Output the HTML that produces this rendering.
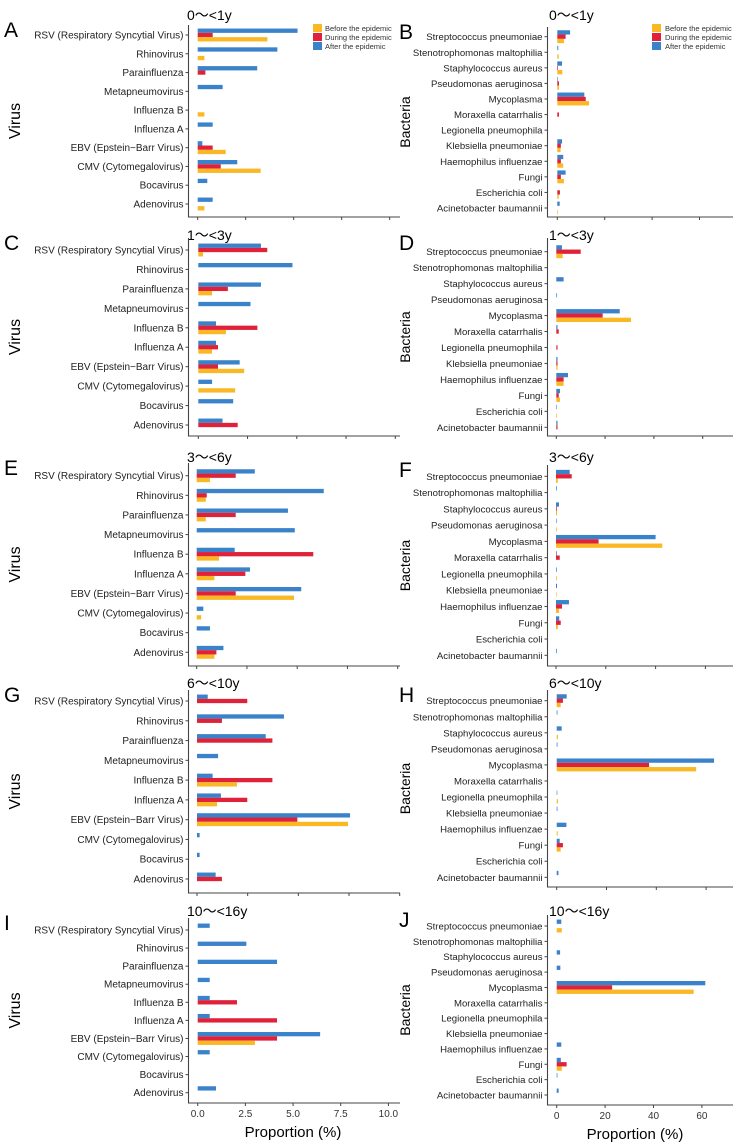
<!DOCTYPE html>
<html><head><meta charset="utf-8"><style>
html,body{margin:0;padding:0;background:#fff;}
svg{display:block;font-family:"Liberation Sans",Arial,sans-serif;}
</style></head><body>
<svg id="chart" width="750" height="1144" viewBox="0 0 750 1144" xmlns="http://www.w3.org/2000/svg"></svg>
<script>
const virusCats = ["RSV (Respiratory Syncytial Virus)","Rhinovirus","Parainfluenza","Metapneumovirus","Influenza B","Influenza A","EBV (Epstein\u2212Barr Virus)","CMV (Cytomegalovirus)","Bocavirus","Adenovirus"];
const bactCats = ["Streptococcus pneumoniae","Stenotrophomonas maltophilia","Staphylococcus aureus","Pseudomonas aeruginosa","Mycoplasma","Moraxella catarrhalis","Legionella pneumophila","Klebsiella pneumoniae","Haemophilus influenzae","Fungi","Escherichia coli","Acinetobacter baumannii"];
const seriesNames = ["Before the epidemic","During the epidemic","After the epidemic"];
const virusTicks = [0,2.5,5,7.5,10];
const virusTickLabels = ["0.0","2.5","5.0","7.5","10.0"];
const bactTicks = [0,20,40,60];
const bactTickLabels = ["0","20","40","60"];
const ageGroups = ["0\uff5e<1y","1\uff5e<3y","3\uff5e<6y","6\uff5e<10y","10\uff5e<16y"];

const aBefore=[3.63,0.35,0,0,0.35,0,1.46,3.28,0,0.35];
const aDuring=[0.78,0,0.4,0,0,0,0.78,1.2,0,0];
const aAfter=[5.2,4.15,3.1,1.3,0,0.78,0.24,2.06,0.5,0.78];
const cBefore=[0.24,0,0.7,0,1.4,0.7,2.33,1.87,0,0];
const cDuring=[3.5,0,1.5,0,3.0,1.0,1.0,0,0,2.0];
const cAfter=[3.18,4.78,3.18,2.65,0.9,0.9,2.1,0.7,1.77,1.23];
const eBefore=[0.66,0.45,0.45,0,1.11,0.88,4.84,0.22,0,0.88];
const eDuring=[1.94,0.5,1.94,0,5.8,2.42,1.94,0,0,0.98];
const eAfter=[2.89,6.32,4.54,4.88,1.89,2.65,5.2,0.33,0.66,1.33];
const gBefore=[0,0,0,0,1.97,0.99,7.45,0,0,0];
const gDuring=[2.48,1.23,3.72,0,3.72,2.48,4.95,0,0,1.23];
const gAfter=[0.53,4.29,3.39,1.04,0.77,1.18,7.55,0.13,0.13,0.92];
const iBefore=[0,0,0,0,0,0,3.0,0,0,0];
const iDuring=[0,0,0,0,2.06,4.16,4.16,0,0,0];
const iAfter=[0.63,2.55,4.16,0.63,0.63,0.63,6.42,0.63,0,0.96];
const bBefore=[2.8,0.6,2.1,0.7,13.4,0,0,1.4,2.5,2.8,0.6,0.3];
const bDuring=[3.5,0,0.3,0.7,12,0.7,0,1.5,1.5,1.5,1.1,0];
const bAfter=[5.4,0.4,2,0.2,11.4,0,0,2,2.5,3.5,0,1];
const dBefore=[2.6,0,0,0,30.6,0,0,0.5,3,1.5,0.2,0];
const dDuring=[10,0,0,0,19,1,0.5,0.5,3,1,0,0.5];
const dAfter=[2.3,0,3,0.3,26,0.5,0,0.5,4.8,1.5,0.2,0.5];
const fBefore=[0.7,0,0.4,0.3,42.7,0,0.3,0.1,1.2,0.7,0,0];
const fDuring=[6.3,0,0.3,0,17.1,1.5,0,0,2.4,1.9,0,0];
const fAfter=[5.5,0.3,1.2,0.1,40,0.3,0.3,0.4,5.2,1.3,0,0.3];
const hBefore=[1.6,0,0.5,0,56,0,0.5,0,0.4,1.6,0,0];
const hDuring=[2.5,0,0,0,37.1,0,0,0,0,2.5,0,0];
const hAfter=[4,0.3,2,0.3,63.2,0,0.1,0.3,3.9,1.2,0,0.7];
const jBefore=[2.1,0,0,0,56.6,0,0,0,0,2.1,0,0];
const jDuring=[0,0,0,0,22.9,0,0,0,0,4.1,0,0];
const jAfter=[1.9,0,1.4,1.5,61.4,0,0,0,1.9,1.7,0.3,0.8];

const COLORS=["#F9B824","#E0213A","#3A82C9"];
const svg=document.getElementById('chart');
const NS="http://www.w3.org/2000/svg";
function mk(tag,attrs,parent){const e=document.createElementNS(NS,tag);for(const k in attrs)e.setAttribute(k,attrs[k]);(parent||svg).appendChild(e);return e;}

const panels=[
 {L:"A",type:"v",age:0,data:[aBefore,aDuring,aAfter],x0:197.7,ppu:19.2,yt:35,yb:204,top:25,bot:217,title:14,legend:true},
 {L:"B",type:"b",age:0,data:[bBefore,bDuring,bAfter],x0:557.3,ppu:2.37,yt:36.7,yb:208,top:27,bot:217,title:14,legend:true},
 {L:"C",type:"v",age:1,data:[cBefore,cDuring,cAfter],x0:198.3,ppu:19.7,yt:250,yb:425,top:238,bot:436,title:234},
 {L:"D",type:"b",age:1,data:[dBefore,dDuring,dAfter],x0:556.3,ppu:2.44,yt:251.7,yb:427.3,top:238,bot:436,title:234},
 {L:"E",type:"v",age:2,data:[eBefore,eDuring,eAfter],x0:196.7,ppu:20.1,yt:475.7,yb:652.3,top:463,bot:666,title:456},
 {L:"F",type:"b",age:2,data:[fBefore,fDuring,fAfter],x0:556,ppu:2.49,yt:476.3,yb:655.3,top:465,bot:666,title:456},
 {L:"G",type:"v",age:3,data:[gBefore,gDuring,gAfter],x0:197,ppu:20.27,yt:701,yb:879,top:690,bot:893,title:682},
 {L:"H",type:"b",age:3,data:[hBefore,hDuring,hAfter],x0:556.7,ppu:2.49,yt:700.7,yb:877.3,top:690,bot:887,title:682},
 {L:"I",type:"v",age:4,data:[iBefore,iDuring,iAfter],x0:197.7,ppu:19.07,yt:930,yb:1092.7,top:918,bot:1103,title:910,labels:true},
 {L:"J",type:"b",age:4,data:[jBefore,jDuring,jAfter],x0:556.7,ppu:2.42,yt:926,yb:1095,top:915,bot:1105,title:910,labels:true}
];

panels.forEach(p=>{
  const isV=p.type==="v";
  const cats=isV?virusCats:bactCats;
  const ticks=isV?virusTicks:bactTicks;
  const tlabels=isV?virusTickLabels:bactTickLabels;
  const axX=isV?188.5:547.5;
  const axR=isV?400:733;
  const g=mk('g',{});
  
  
  const xs=v=>p.x0+v*p.ppu;
  const step=(p.yb-p.yt)/(cats.length-1);
  const ys=i=>p.yt+i*step;
  const lt=mk('text',{x:isV?4:399,y:p.top+12,'font-size':21,fill:'#000'},g);
  lt.textContent=p.L;
  
  
  const tt=mk('text',{x:isV?187:549,y:p.title+6,'font-size':14,fill:'#000',
    'font-family':'"Liberation Sans","Noto Sans CJK SC",sans-serif'},g);
  tt.textContent=ageGroups[p.age];
  
  
  const cy=(p.top+p.bot)/2;
  const yx=isV?20:410;
  const yt=mk('text',{x:yx,y:cy,'font-size':isV?16:14,'text-anchor':'middle',transform:`rotate(-90 ${yx} ${cy})`,fill:'#000'},g);
  yt.textContent=isV?"Virus":"Bacteria";
  
  
  const ax=mk('path',{d:`M${axX} ${p.top}V${p.bot}H${axR}`,stroke:'#444',fill:'none','stroke-width':1.1},g);
  
  
  ticks.forEach((t,k)=>{
    const tk=mk('line',{x1:xs(t),x2:xs(t),y1:p.bot,y2:p.bot+3,stroke:'#444','stroke-width':1},g);
    
    
    if(p.labels){
      const tl=mk('text',{x:xs(t),y:p.bot+14,'font-size':10,'text-anchor':'middle',fill:'#333'},g);
      tl.textContent=tlabels[k];
      
      
    }
  });
  if(p.labels){
    const xt=mk('text',{x:isV?293:635,y:p.bot+34,'font-size':15,'text-anchor':'middle',fill:'#000'},g);
    xt.textContent="Proportion (%)";
    
    
  }
  cats.forEach((c,i)=>{
    const y=ys(i);
    const ct=mk('text',{x:axX-5,y:y+3.5,'font-size':isV?10:9.6,'text-anchor':'end',fill:'#222'},g);
    ct.textContent=c;
    
    
    const tk=mk('line',{x1:axX-3,x2:axX,y1:y,y2:y,stroke:'#444','stroke-width':1},g);
    
    
    [2,1,0].forEach((s,k)=>{
      const v=p.data[s][i];
      if(v<=0)return;
      const r=mk('rect',{x:p.x0,y:y-6.45+k*4.3,width:Math.max(0.6,xs(v)-p.x0),height:4.3,fill:COLORS[s]},g);
      
      
    });
  });
  if(p.legend){
    const lx=isV?313:652, tx=isV?325:665;
    seriesNames.forEach((n,k)=>{
      const ly=24+k*9;
      const sq=mk('rect',{x:lx,y:ly,width:9,height:8,fill:COLORS[k]},g);
      
      
      const t=mk('text',{x:tx,y:ly+7,'font-size':7.5,fill:'#333'},g);
      t.textContent=n;
      
      
    });
  }
});
</script>
</body></html>
